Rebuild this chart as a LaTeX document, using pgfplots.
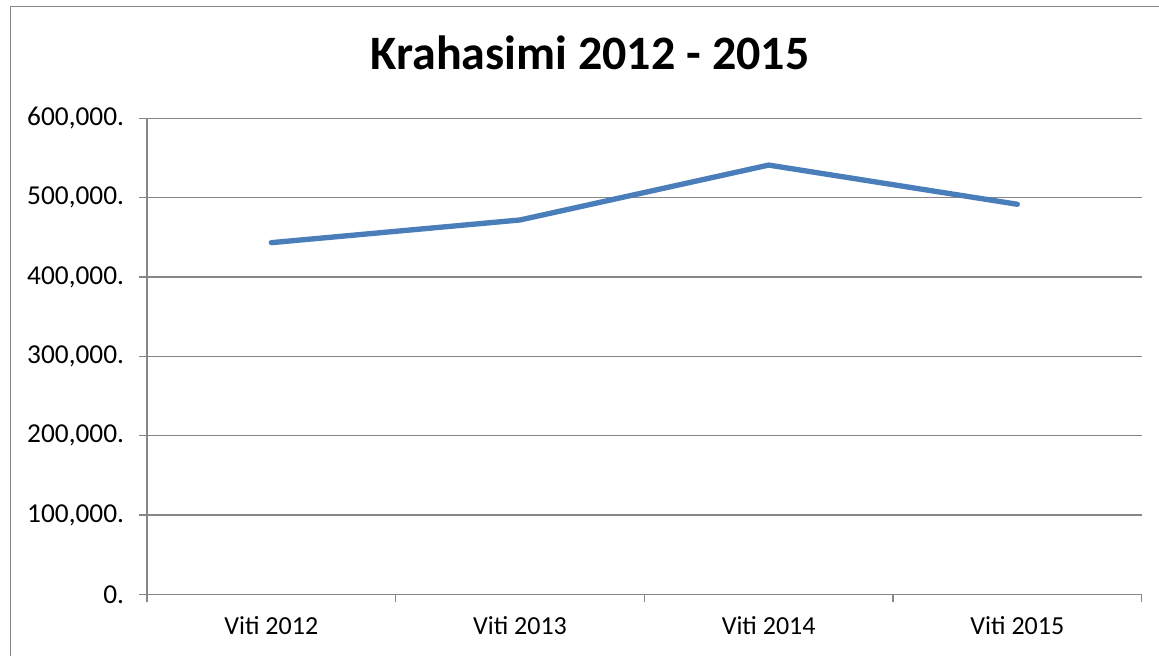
\documentclass[border=0pt]{standalone}
\usepackage{fontspec}
\setmainfont{Carlito}
\usepackage{pgfplots}
\pgfplotsset{compat=1.18}
\definecolor{gridgray}{HTML}{868686}
\definecolor{lineblue}{HTML}{4A7EBB}
\begin{document}
\begin{tikzpicture}
\path[use as bounding box] (0,0) rectangle (869.25pt,492pt);
\clip (0,0) rectangle (869.25pt,492pt);
\draw[gridgray, line width=1.4pt] (7.9pt,-20pt) rectangle (900pt,487.1pt);
\node[anchor=base, font=\fontsize{36}{40}\selectfont\bfseries] at (442.5pt,439.5pt) {Krahasimi 2012 - 2015};
\begin{axis}[
  at={(110.25pt,46.3pt)}, anchor=south west,
  scale only axis, width=746pt, height=357pt,
  xmin=-0.5, xmax=3.5, ymin=0, ymax=600000,
  scaled y ticks=false,
  axis x line=bottom, axis y line=left,
  axis line style={-, gridgray, line width=0.9pt},
  tick align=outside,
  major tick length=6pt,
  tick style={gridgray, line width=0.9pt},
  xtick={-0.5,0.5,1.5,2.5,3.5}, xticklabels={},
  extra x ticks={0,1,2,3},
  extra x tick labels={Viti 2012,Viti 2013,Viti 2014,Viti 2015},
  extra x tick style={major tick length=0pt, grid=none,
    xticklabel style={anchor=base, yshift=-30.5pt}},
  ytick={0,100000,200000,300000,400000,500000,600000},
  yticklabels={{0.},{100,000.},{200,000.},{300,000.},{400,000.},{500,000.},{600,000.}},
  ymajorgrids, grid style={gridgray, line width=0.9pt},
  /pgf/number format/assume math mode=true,
  xticklabel style={font=\fontsize{19.5}{22}\selectfont},
  yticklabel style={font=\fontsize{20.5}{22}\selectfont, anchor=east, inner sep=0pt, xshift=-11pt},
  clip=false,
]
\addplot[lineblue, line width=4pt, line join=round, line cap=round] coordinates {
  (0,443200) (1,471800) (2,541000) (3,491600)
};
\end{axis}
\end{tikzpicture}
\end{document}
